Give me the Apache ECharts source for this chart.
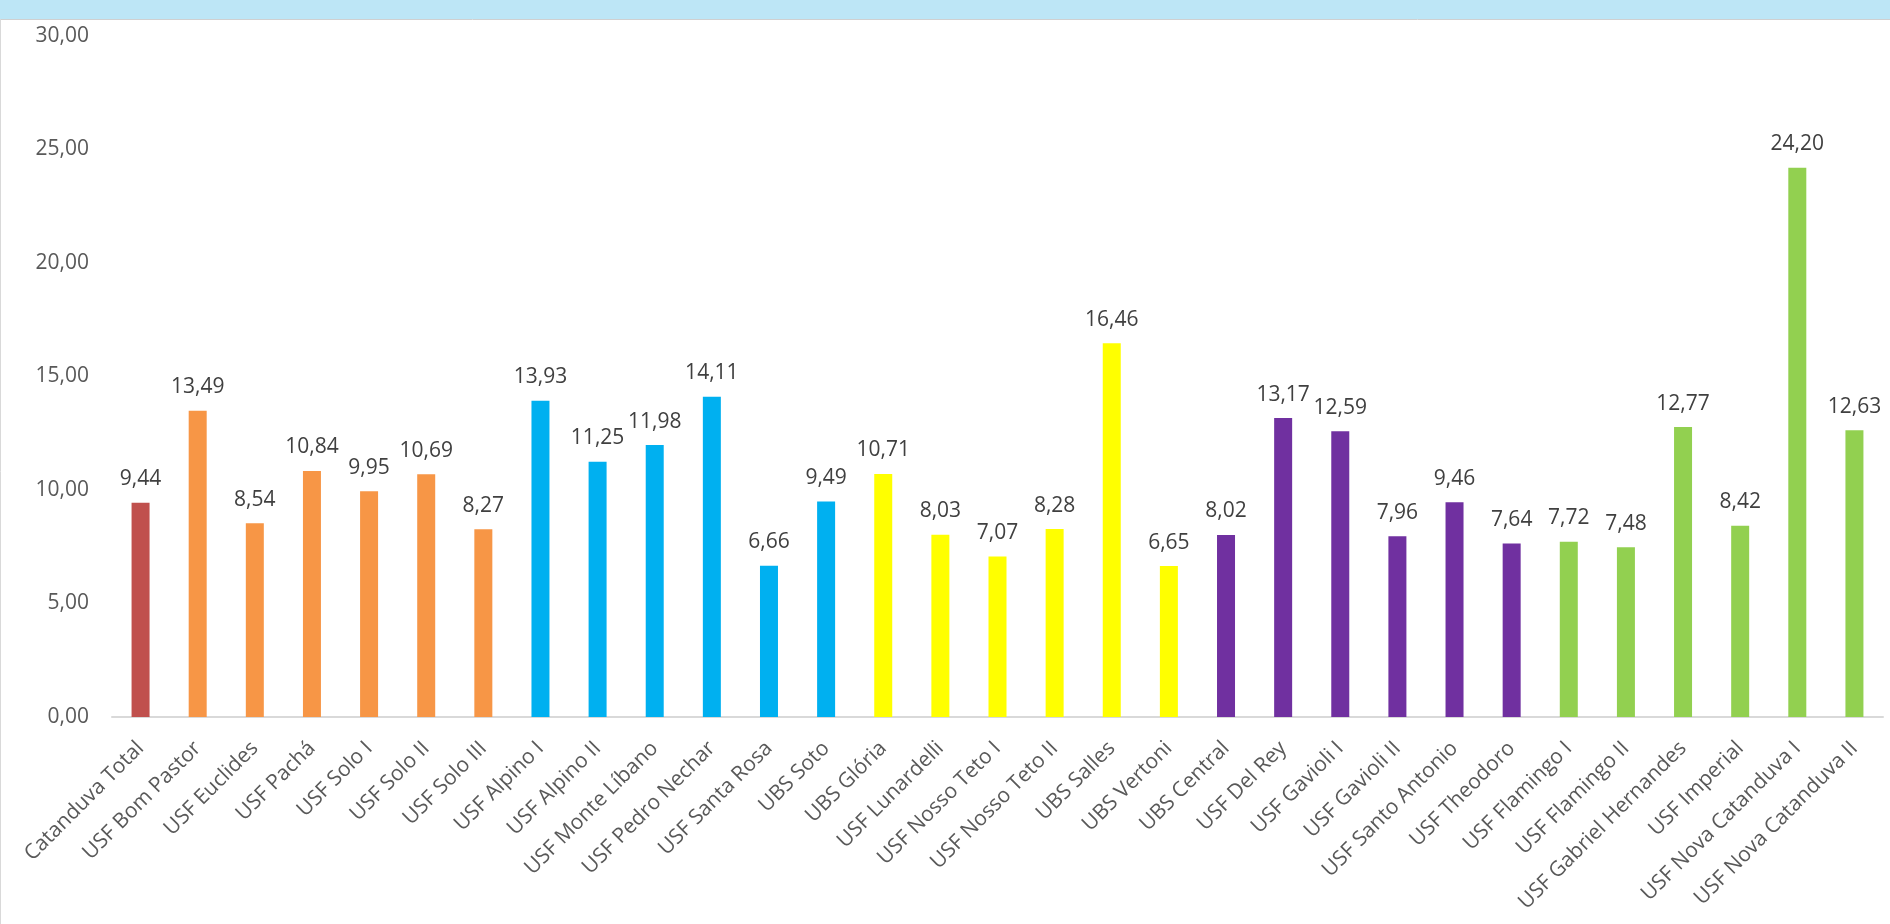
<!DOCTYPE html>
<html>
<head>
<meta charset="utf-8">
<title>Unidades de saúde – Catanduva</title>
<script src="https://cdn.jsdelivr.net/npm/echarts@6/dist/echarts.min.js"></script>
<style>
  html, body { margin: 0; padding: 0; background: #ffffff; }
  #chart { width: 1890px; height: 924px; }
</style>
</head>
<body>
<div id="chart"></div>
<script>
// Health units (município total first, then each unit)
const categories = [
  'Catanduva Total', 'USF Bom Pastor', 'USF Euclides', 'USF Pachá', 'USF Solo I',
  'USF Solo II', 'USF Solo III', 'USF Alpino I', 'USF Alpino II', 'USF Monte Líbano',
  'USF Pedro Nechar', 'USF Santa Rosa', 'UBS Soto', 'UBS Glória', 'USF Lunardelli',
  'USF Nosso Teto I', 'USF Nosso Teto II', 'UBS Salles', 'UBS Vertoni', 'UBS Central',
  'USF Del Rey', 'USF Gavioli I', 'USF Gavioli II', 'USF Santo Antonio', 'USF Theodoro',
  'USF Flamingo I', 'USF Flamingo II', 'USF Gabriel Hernandes', 'USF Imperial',
  'USF Nova Catanduva I', 'USF Nova Catanduva II'
];

const values = [
  9.44, 13.49, 8.54, 10.84, 9.95,
  10.69, 8.27, 13.93, 11.25, 11.98,
  14.11, 6.66, 9.49, 10.71, 8.03,
  7.07, 8.28, 16.46, 6.65, 8.02,
  13.17, 12.59, 7.96, 9.46, 7.64,
  7.72, 7.48, 12.77, 8.42,
  24.20, 12.63
];

// Group index of each unit (0 = município total, 1..5 = unit groups)
const groups = [
  0, 1, 1, 1, 1,
  1, 1, 2, 2, 2,
  2, 2, 2, 3, 3,
  3, 3, 3, 3, 4,
  4, 4, 4, 4, 4,
  5, 5, 5, 5,
  5, 5
];

// Y axis ticks
const yTicks = [0, 5, 10, 15, 20, 25, 30];

const groupColors = ['#C0504D', '#F79646', '#00B0F0', '#FFFF00', '#7030A0', '#92D050'];

const fmt = v => v.toFixed(2).replace('.', ',');

const chart = echarts.init(document.getElementById('chart'), null, { renderer: 'canvas' });

const seriesData = values.map((v, i) => ({
  value: v,
  itemStyle: { color: groupColors[groups[i]] }
}));

const option = {
  backgroundColor: '#ffffff',
  animation: false,
  textStyle: { fontFamily: '"Open Sans", "DejaVu Sans", sans-serif' },
  graphic: [
    { type: 'rect', shape: { x: 0, y: 0, width: 1890, height: 19 }, style: { fill: '#BDE6F6' }, silent: true },
    { type: 'line', shape: { x1: 0, y1: 19.5, x2: 1890, y2: 19.5 }, style: { stroke: '#D0D0D0', lineWidth: 1 }, silent: true },
    { type: 'line', shape: { x1: 0.5, y1: 19, x2: 0.5, y2: 924 }, style: { stroke: '#D9D9D9', lineWidth: 1 }, silent: true }
  ],
  grid: { left: 112, right: 7, top: 36, bottom: 207, containLabel: false },
  xAxis: {
    type: 'category',
    data: categories,
    axisLine: { show: true, lineStyle: { color: '#D9D9D9', width: 2 } },
    axisTick: { show: false },
    axisLabel: {
      interval: 0,
      rotate: 45,
      margin: 28,
      color: '#595959',
      fontSize: 21,
      fontFamily: '"Open Sans", sans-serif'
    },
    splitLine: { show: false }
  },
  yAxis: {
    type: 'value',
    min: yTicks[0],
    max: yTicks[yTicks.length - 1],
    interval: yTicks[1] - yTicks[0],
    axisLine: { show: false },
    axisTick: { show: false },
    splitLine: { show: false },
    axisLabel: {
      margin: 23,
      color: '#595959',
      fontSize: 21,
      fontFamily: '"Open Sans", sans-serif',
      padding: [4, 0, 0, 0],
      formatter: v => fmt(v)
    }
  },
  series: [{
    type: 'bar',
    data: seriesData,
    barWidth: 18,
    label: {
      show: true,
      position: 'top',
      distance: 13,
      color: '#404040',
      fontSize: 21,
      fontFamily: '"Open Sans", sans-serif',
      formatter: p => fmt(p.value)
    }
  }]
};

chart.setOption(option);
</script>
</body>
</html>
